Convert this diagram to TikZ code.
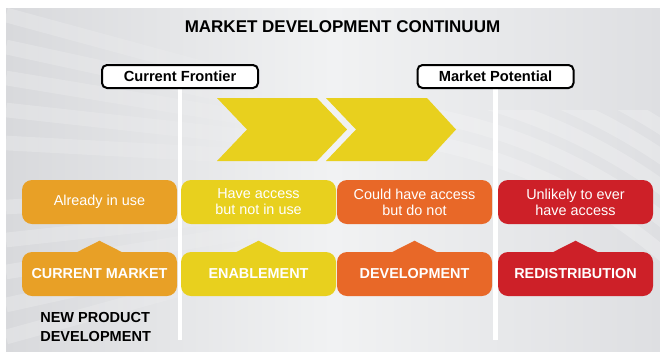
\documentclass[tikz,border=0pt]{standalone}
\usepackage{fontspec}
\setmainfont{Liberation Sans}
\usetikzlibrary{fadings}

\definecolor{bgside}{RGB}{216,217,220}
\definecolor{bgmid}{RGB}{241,242,243}
\definecolor{bgright}{RGB}{222,223,226}
\definecolor{chevyellow}{RGB}{232,208,30}
\definecolor{colA}{RGB}{232,160,38}
\definecolor{colB}{RGB}{232,208,30}
\definecolor{colC}{RGB}{232,104,40}
\definecolor{colD}{RGB}{205,32,40}

\pgfdeclarelayer{bg}
\pgfdeclarelayer{dividers}
\pgfsetlayers{bg,dividers,main}

\tikzset{
  title/.style={font=\bfseries\fontsize{12.75pt}{15pt}\selectfont, text=black},
  frontier/.style={draw=black, line width=1.5pt, fill=white, rounded corners=3.75pt,
    minimum width=117pt, minimum height=17.25pt, inner sep=0pt,
    font=\bfseries\fontsize{11pt}{13pt}\selectfont},
  divider/.style={white, line width=3.4pt},
  chevron/.style={fill=chevyellow},
  descbox/.style={rounded corners=7.5pt, minimum width=116.25pt, minimum height=33pt,
    inner sep=0pt, align=center, text=white,
    font=\fontsize{10.8pt}{12pt}\selectfont},
  catbox/.style={rounded corners=7.5pt, minimum width=116.25pt, minimum height=33pt,
    inner sep=0pt, text=white, font=\bfseries\fontsize{10.8pt}{13pt}\selectfont},
  band/.style={white, opacity=0.22, line width=11pt},
}

\begin{document}
\begin{tikzpicture}[x=0.75pt, y=-0.75pt]
\useasboundingbox (0,0) rectangle (660,351);

% backdrop with soft streaks
\begin{pgfonlayer}{bg}
\fill[white] (0,0) rectangle (660,351);
\shade[left color=bgside, right color=bgright, middle color=bgmid] (6,8) rectangle (660,351);
\begin{scope}
  \clip (6,8) rectangle (660,351);
  \foreach \y in {15,47,78,110,143,207,240,272,305,337} {
    \draw[band, path fading=east] (6,\y) -- (330,{175+(\y-175)*0.45});
  }
\end{scope}
\begin{scope}
  \clip (420,110) rectangle (660,351);
  \foreach \r in {520,545,570,595,620} {
    \draw[band, opacity=0.3, path fading=west] (330,650) circle[radius=\r];
  }
\end{scope}
\end{pgfonlayer}

% title
\node[title] (title) at (342.5,27) {MARKET DEVELOPMENT CONTINUUM};

% frontier markers
\node[frontier] (cf) at (180,76.5) {Current Frontier};
\node[frontier] (mp) at (495.5,76.5) {Market Potential};
\coordinate (cfend) at (179.5,340);
\coordinate (mpend) at (494.5,340);
\begin{pgfonlayer}{dividers}
\draw[divider] (cf.south) -- (cf.south |- cfend);
\draw[divider] (mp.south) -- (mp.south |- mpend);
\end{pgfonlayer}

% chevrons
\fill[chevron] (217,98) -- (317,98) -- (347,129.5) -- (317,161) -- (217,161) -- (247,129.5) -- cycle;
\fill[chevron] (326,98) -- (427,98) -- (456,129.5) -- (427,161) -- (326,161) -- (356,129.5) -- cycle;

% description row
\node[descbox, fill=colA] (dA) at (99.5,202) {Already in use};
\node[descbox, fill=colB] (dB) at (258.5,202) {Have access\\but not in use};
\node[descbox, fill=colC] (dC) at (414.5,202) {Could have access\\but do not};
\node[descbox, fill=colD] (dD) at (575.5,202) {Unlikely to ever\\have access};

% category row with pointers
\foreach \n/\x/\c/\t in {cA/99.5/colA/CURRENT MARKET, cB/258.5/colB/ENABLEMENT,
                         cC/414.5/colC/DEVELOPMENT, cD/575.5/colD/REDISTRIBUTION} {
  \node[catbox, fill=\c] (\n) at (\x,274) {\t};
  \fill[\c] ([xshift=-17.25pt,yshift=-0.5pt]\n.north) -- ([yshift=8.25pt]\n.north) -- ([xshift=17.25pt,yshift=-0.5pt]\n.north) -- cycle;
}

% footnote label
\node[anchor=north west, inner sep=0pt, align=left,
      font=\bfseries\fontsize{10.9pt}{14.25pt}\selectfont] (npd) at (40,312) {NEW PRODUCT\\DEVELOPMENT};
\end{tikzpicture}
\end{document}
